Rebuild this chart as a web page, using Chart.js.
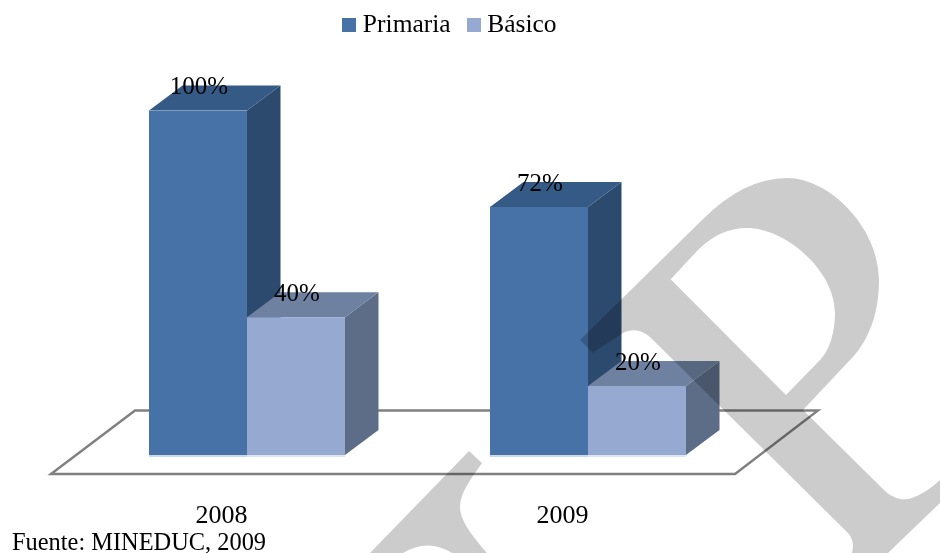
<!DOCTYPE html>
<html>
<head>
<meta charset="utf-8">
<style>html,body{margin:0;padding:0;background:#fff}#w{width:940px;height:553px}canvas{display:block}</style>
<script src="https://cdn.jsdelivr.net/npm/chart.js@4"></script>
</head>
<body>
<div id="w"><canvas id="c" width="940" height="553"></canvas></div>
<script>
const categories = ["2008", "2009"];
const primaria = [100, 72];
const basico = [40, 20];
const seriesNames = ["Primaria", "Básico"];
const sourceNote = "Fuente: MINEDUC, 2009";

const SERIF = '"Liberation Serif", "Times New Roman", serif';
const faces = [
  { front: "#4672A8", top: "#345A85", side: "#2C4A6E", rim: "#C9D8EC" },
  { front: "#95A9D1", top: "#6F81A0", side: "#5D6C87", rim: "#DDE5F3" }
];
const DX = 33.5, DY = 25;

function swatch(color) {
  const s = document.createElement("canvas");
  s.width = 14; s.height = 14;
  const g = s.getContext("2d");
  g.fillStyle = color; g.fillRect(0, 0, 14, 14);
  return s;
}
const swatches = faces.map(f => swatch(f.front));

function poly(ctx, pts, fill) {
  ctx.beginPath();
  pts.forEach((p, i) => i ? ctx.lineTo(p[0], p[1]) : ctx.moveTo(p[0], p[1]));
  ctx.closePath();
  ctx.fillStyle = fill;
  ctx.fill();
}

const solid3d = {
  id: "solid3d",
  afterLayout(chart) {
    const l = chart.legend;
    const w = l.right - l.left, h = l.bottom - l.top;
    l.left = 452.6 - w / 2; l.right = l.left + w;
    l.top = -10; l.bottom = l.top + h;
  },
  beforeDatasetsDraw(chart) {
    const ctx = chart.ctx, a = chart.chartArea;
    // floor
    ctx.save();
    ctx.strokeStyle = "#808080";
    ctx.lineWidth = 2.4;
    ctx.lineJoin = "miter";
    const back = a.bottom - 44.5, front = a.bottom + 19;
    ctx.beginPath();
    ctx.moveTo(a.left - 25.5, front);
    ctx.lineTo(a.left + 58.5, back);
    ctx.lineTo(a.right + 59.5, back);
    ctx.lineTo(a.right - 23.5, front);
    ctx.closePath();
    ctx.stroke();
    // tops and sides
    chart.data.datasets.forEach((ds, di) => {
      const f = faces[di];
      chart.getDatasetMeta(di).data.forEach(b => {
        const L = b.x - b.width / 2, R = b.x + b.width / 2;
        poly(ctx, [[R, b.y], [R + DX, b.y - DY], [R + DX, b.base - DY], [R, b.base]], f.side);
        poly(ctx, [[L, b.y], [L + DX, b.y - DY], [R + DX, b.y - DY], [R, b.y]], f.top);
        ctx.fillStyle = f.rim;
        ctx.fillRect(L, b.base, b.width, 2);
      });
    });
    ctx.restore();
  },
  afterDatasetsDraw(chart) {
    const ctx = chart.ctx;
    ctx.save();
    ctx.fillStyle = "#000";
    ctx.textAlign = "center";
    ctx.textBaseline = "alphabetic";
    ctx.font = "25px " + SERIF;
    chart.data.datasets.forEach((ds, di) => {
      chart.getDatasetMeta(di).data.forEach((b, i) => {
        ctx.fillText(ds.data[i] + "%", b.x + 1, b.y - 16);
      });
    });
    ctx.textAlign = "left";
    ctx.font = "24.4px " + SERIF;
    ctx.fillText(sourceNote, 12, 549.5);
    ctx.restore();
  },
  afterDraw(chart) {
    const ctx = chart.ctx;
    ctx.save();
    ctx.fillStyle = "rgba(0,0,0,0.2)";
    const p = new Path2D();
    p.moveTo(580, 340);
    p.lineTo(702, 220);
    p.quadraticCurveTo(744, 178, 787, 178);
    p.bezierCurveTo(830, 178, 879, 228, 879, 280);
    p.bezierCurveTo(879, 318, 866, 344, 850, 360);
    p.lineTo(803, 410);
    p.lineTo(883, 489);
    p.bezierCurveTo(893, 499, 903, 501, 912, 498);
    p.quadraticCurveTo(926, 493, 940, 480);
    p.lineTo(940, 503);
    p.lineTo(888, 553);
    p.lineTo(852, 553);
    p.bezierCurveTo(854, 545, 853, 538, 847, 532);
    p.lineTo(653, 340);
    p.bezierCurveTo(645, 331, 634, 327, 623, 333);
    p.lineTo(592.7, 352.7);
    p.closePath();
    p.moveTo(670.7, 279.3);
    p.lineTo(698, 250);
    p.quadraticCurveTo(720, 228, 747, 228);
    p.bezierCurveTo(785, 228, 835, 270, 835, 313);
    p.bezierCurveTo(835, 333, 829, 351, 820, 360);
    p.lineTo(786, 395);
    p.closePath();
    ctx.fill(p, "evenodd");
    const q = new Path2D();
    q.moveTo(370, 553);
    q.lineTo(469, 451);
    q.lineTo(482, 463);
    q.bezierCurveTo(472, 478, 460, 492, 460, 507);
    q.bezierCurveTo(460, 522, 476, 540, 487, 553);
    q.lineTo(452, 553);
    q.quadraticCurveTo(428, 538, 403, 553);
    q.closePath();
    ctx.fill(q);
    ctx.restore();
  }
};

new Chart(document.getElementById("c"), {
  type: "bar",
  data: {
    labels: categories,
    datasets: [
      { label: seriesNames[0], data: primaria, backgroundColor: faces[0].front },
      { label: seriesNames[1], data: basico, backgroundColor: faces[1].front }
    ]
  },
  options: {
    responsive: false,
    animation: false,
    events: [],
    layout: { padding: { left: 76.5, right: 181.5, top: 52.65, bottom: 23 } },
    datasets: { bar: { barPercentage: 1, categoryPercentage: 0.5748, borderWidth: 0 } },
    plugins: {
      title: { display: false },
      tooltip: { enabled: false },
      legend: {
        position: "top",
        labels: {
          color: "#000",
          font: { family: SERIF, size: 25.5 },
          usePointStyle: true,
          boxWidth: 1.5,
          boxHeight: 14,
          padding: 22.25,
          generateLabels(chart) {
            return Chart.defaults.plugins.legend.labels.generateLabels(chart)
              .map((it, i) => Object.assign(it, { pointStyle: swatches[i] }));
          }
        }
      }
    },
    scales: {
      x: {
        afterFit(axis) { axis.height = 75; },
        grid: { display: false, drawTicks: false },
        border: { display: false },
        ticks: { color: "#000", font: { family: SERIF, size: 26 }, padding: 46, labelOffset: -25.5, maxRotation: 0 }
      },
      y: { display: false, min: 0, max: 100 }
    }
  },
  plugins: [solid3d]
});
</script>
</body>
</html>
